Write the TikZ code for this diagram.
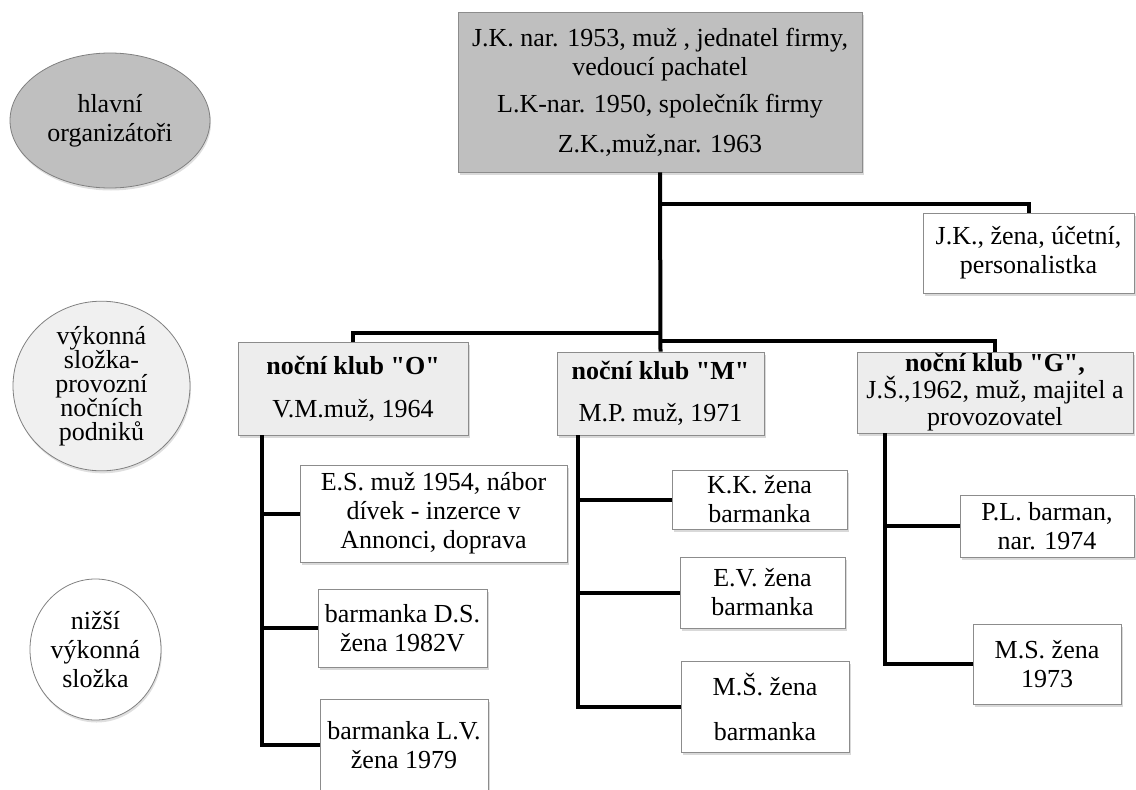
\documentclass[tikz,border=0pt]{standalone}
\usepackage{fontspec}
\setmainfont{Liberation Serif}[Ligatures=TeXOff]
\usetikzlibrary{positioning,shapes.geometric,shadows}

\begin{document}
\begin{tikzpicture}[
  x=1pt, y=-1pt, font=\fontsize{26}{29}\selectfont,
  bx/.style={draw=black!45, line width=0.8pt, align=center, inner sep=2pt, fill=white,
             drop shadow={shadow xshift=1.5pt, shadow yshift=-2.5pt, opacity=0.3}},
  hd/.style={bx, fill=black!25},
  club/.style={bx, fill=black!7},
  % level labels on the left
  lev/.style={ellipse, draw=black!50, line width=0.8pt, align=center, inner sep=0pt,
              drop shadow={shadow xshift=1pt, shadow yshift=-2.5pt, opacity=0.25}},
  ln/.style={line width=4pt, black}]

\useasboundingbox (0,0) rectangle (1136,790);

% ================= levels =================
\node[lev, fill=black!25, minimum width=200, minimum height=135] (lvA) at (110,120.5)
  {hlavní\\organizátoři};
\node[lev, fill=black!6, minimum width=177, minimum height=148,
      font=\fontsize{26}{23.5}\selectfont] (lvB) at (101.5,386)
  {výkonná\\složka-\\provozní\\nočních\\podniků};
\node[lev, fill=white, minimum width=131, minimum height=141] (lvC) at (95.5,649.5)
  {nižší\\výkonná\\složka};

% ================= organizers =================
\node[hd, minimum width=404, minimum height=160] (top) at (660,92)
  {J.K. nar. 1953, muž , jednatel firmy,\\vedoucí pachatel\\[8pt]
   L.K-nar. 1950, společník firmy\\[11pt]Z.K.,muž,nar. 1963};
\node[bx, minimum width=211, minimum height=80] (acct) at (1028.5,253)
  {J.K., žena, účetní,\\personalistka};

% ================= night clubs =================
\node[club, minimum width=230, minimum height=93] (clubO) at (353,388.5)
  {\textbf{noční klub "O"}\\[14pt]V.M.muž, 1964};
\node[club, minimum width=207, minimum height=83] (clubM) at (660.5,393.5)
  {\textbf{noční klub "M"}\\[13pt]M.P. muž, 1971};
\node[club, minimum width=276, minimum height=81, inner sep=1pt,
      font=\fontsize{26}{27}\selectfont] (clubG) at (995,392.5)
  {\textbf{noční klub "G",}\\J.Š.,1962, muž, majitel a\\provozovatel};

\coordinate (busL) at (661,333);
\coordinate (busR) at (661,341);
\draw[ln] (top.south) -- (clubM.north);
\draw[ln] ([yshift=9pt]top.south |- acct.north) -| (acct.north);
\draw[ln] (busL) -| (clubO.north);
\draw[ln] (busR) -| (clubG.north);

% ================= lower level =================
\node[bx, minimum width=267, minimum height=97] (es) at (433.5,513.5)
  {E.S. muž 1954, nábor\\dívek - inzerce v\\Annonci, doprava};
\node[bx, minimum width=169, minimum height=78] (ds) at (402.5,628)
  {barmanka D.S.\\žena 1982V};
\node[bx, minimum width=168, minimum height=92] (lv) at (404,745)
  {barmanka L.V.\\žena 1979};

\node[bx, minimum width=175, minimum height=59] (kk) at (759.5,499.5)
  {K.K. žena\\barmanka};
\node[bx, minimum width=165, minimum height=71] (ev) at (762.5,592.5)
  {E.V. žena\\barmanka};
\node[bx, minimum width=168, minimum height=91] (msz) at (765,706.5)
  {M.Š. žena\\[16pt]barmanka};

\node[bx, minimum width=174, minimum height=62] (pl) at (1047,526)
  {P.L. barman,\\nar. 1974};
\node[bx, minimum width=148, minimum height=80] (msg) at (1047,664)
  {M.S. žena\\1973};

\draw[ln] ([xshift=24pt]clubO.south west) |- (es.west);
\draw[ln] ([xshift=24pt]clubO.south west) |- (ds.west);
\draw[ln] ([xshift=24pt]clubO.south west) |- (lv.west);
\draw[ln] ([xshift=21pt]clubM.south west) |- (kk.west);
\draw[ln] ([xshift=21pt]clubM.south west) |- (ev.west);
\draw[ln] ([xshift=21pt]clubM.south west) |- (msz.west);
\draw[ln] ([xshift=28pt]clubG.south west) |- (pl.west);
\draw[ln] ([xshift=28pt]clubG.south west) |- (msg.west);
\end{tikzpicture}
\end{document}
